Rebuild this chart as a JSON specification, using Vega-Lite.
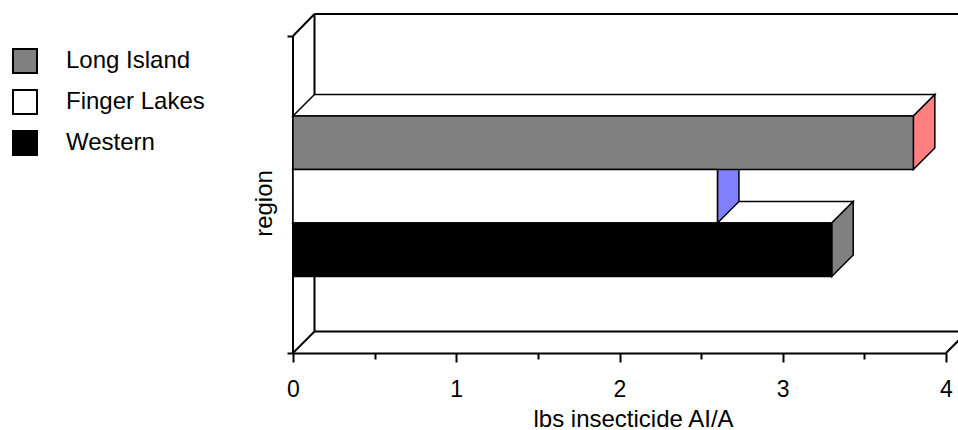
{
  "$schema": "https://vega.github.io/schema/vega-lite/v6.json",
  "autosize": {"type": "none"},
  "width": 653,
  "height": 339,
  "padding": {"left": 293, "top": 14, "right": 12, "bottom": 77},
  "background": "white",
  "config": {
    "view": {"stroke": null},
    "font": "Liberation Sans",
    "axis": {"grid": false, "domainColor": "black", "domainWidth": 2, "tickColor": "black", "tickWidth": 2, "labelColor": "black", "titleColor": "black", "labelFont": "Liberation Sans", "titleFont": "Liberation Sans", "titleFontWeight": "normal", "labelFontSize": 23}
  },
  "datasets": {
    "bars": [
      {"region": "Long Island", "value": 3.8},
      {"region": "Finger Lakes", "value": 2.6},
      {"region": "Western", "value": 3.3}
    ],
    "frame": [{"part": "walls"}]
  },
  "layer": [
    {
      "data": {"name": "frame"},
      "layer": [
        {
          "mark": {"type": "rule", "stroke": "black", "strokeWidth": 2},
          "encoding": {
            "x": {"datum": 0.1317, "type": "quantitative", "scale": {"domain": [0, 4], "nice": false}},
            "y": {"datum": 21.5, "type": "quantitative", "scale": {"domain": [0, 339], "nice": false}},
            "y2": {"datum": 339}
          }
        },
        {
          "mark": {"type": "rule", "stroke": "black", "strokeWidth": 2},
          "encoding": {
            "x": {"datum": 0.1317, "type": "quantitative"},
            "x2": {"datum": 4.1317},
            "y": {"datum": 339, "type": "quantitative"}
          }
        },
        {
          "mark": {"type": "rule", "stroke": "black", "strokeWidth": 2},
          "encoding": {
            "x": {"datum": 0.1317, "type": "quantitative"},
            "x2": {"datum": 4.1317},
            "y": {"datum": 21.5, "type": "quantitative"}
          }
        },
        {
          "mark": {"type": "rule", "stroke": "black", "strokeWidth": 2},
          "encoding": {
            "x": {"datum": 0, "type": "quantitative"},
            "x2": {"datum": 0.1317},
            "y": {"datum": 0, "type": "quantitative"},
            "y2": {"datum": 21.5}
          }
        },
        {
          "mark": {"type": "rule", "stroke": "black", "strokeWidth": 2},
          "encoding": {
            "x": {"datum": 0, "type": "quantitative"},
            "x2": {"datum": 0.1317},
            "y": {"datum": 317, "type": "quantitative"},
            "y2": {"datum": 339}
          }
        },
        {
          "mark": {"type": "rule", "stroke": "black", "strokeWidth": 2},
          "encoding": {
            "x": {"datum": 4, "type": "quantitative"},
            "x2": {"datum": 4.1317},
            "y": {"datum": 0, "type": "quantitative"},
            "y2": {"datum": 21.5}
          }
        },
        {
          "mark": {"type": "rule", "stroke": "black", "strokeWidth": 2},
          "encoding": {
            "x": {"datum": 0, "type": "quantitative"},
            "y": {"datum": 0, "type": "quantitative"},
            "y2": {"datum": 317}
          }
        }
      ]
    },
    {
      "data": {"name": "bars"},
      "transform": [
        {"calculate": "indexof(['Long Island','Finger Lakes','Western'], datum.region)", "as": "slot"},
        {"calculate": "76.5 + (2 - datum.slot) * 53.5", "as": "lo"},
        {"calculate": "datum.lo + 53.5", "as": "hi"}
      ],
      "layer": [
        {
          "transform": [
            {"calculate": "[0, 1]", "as": "k"},
            {"flatten": ["k"]},
            {"calculate": "datum.hi + datum.k * 21.5", "as": "ty"},
            {"calculate": "datum.k * 0.1317", "as": "tx1"},
            {"calculate": "datum.value + datum.k * 0.1317", "as": "tx2"}
          ],
          "mark": {"type": "area", "orient": "horizontal", "fill": "white", "stroke": "black", "strokeWidth": 1.5},
          "encoding": {
            "y": {"field": "ty", "type": "quantitative"},
            "x": {"field": "tx1", "type": "quantitative"},
            "x2": {"field": "tx2"},
            "detail": {"field": "region"}
          }
        },
        {
          "transform": [
            {"calculate": "[0, 1]", "as": "k"},
            {"flatten": ["k"]},
            {"calculate": "datum.value + datum.k * 0.1317", "as": "sx"},
            {"calculate": "datum.lo + datum.k * 21.5", "as": "sy1"},
            {"calculate": "datum.hi + datum.k * 21.5", "as": "sy2"}
          ],
          "mark": {"type": "area", "orient": "vertical", "stroke": "black", "strokeWidth": 1.5},
          "encoding": {
            "x": {"field": "sx", "type": "quantitative"},
            "y": {"field": "sy1", "type": "quantitative"},
            "y2": {"field": "sy2"},
            "detail": {"field": "region"},
            "fill": {
              "condition": [
                {"test": "datum.region === 'Long Island'", "value": "#ff8080"},
                {"test": "datum.region === 'Finger Lakes'", "value": "#8080ff"}
              ],
              "value": "#808080"
            }
          }
        },
        {
          "mark": {"type": "rect", "stroke": "black", "strokeWidth": 1.5},
          "encoding": {
            "x": {
              "field": "value",
              "type": "quantitative",
              "title": "lbs insecticide AI/A",
              "axis": {
                "values": [0, 0.5, 1, 1.5, 2, 2.5, 3, 3.5, 4],
                "format": "~g",
                "labelExpr": "datum.value % 1 === 0 ? datum.label : ''",
                "tickSize": {"condition": {"test": "datum.value % 1 === 0", "value": 9}, "value": 6},
                "labelFontSize": 23,
                "labelPadding": 16,
                "labelFlush": false,
                "labelOverlap": false,
                "labelBound": false,
                "titleFontSize": 24,
                "titleX": 340,
                "titleY": 73,
                "titleBaseline": "alphabetic",
                "titleAlign": "center"
              }
            },
            "x2": {"datum": 0},
            "y": {
              "field": "lo",
              "type": "quantitative",
              "title": "region",
              "axis": {
                "values": [0, 317],
                "labels": false,
                "domain": false,
                "tickSize": 6,
                "titleFontSize": 24,
                "titleAngle": 270,
                "titleX": -29,
                "titleY": 189,
                "titleAlign": "center",
                "titleBaseline": "middle"
              }
            },
            "y2": {"field": "hi"},
            "fill": {
              "field": "region",
              "type": "nominal",
              "scale": {"domain": ["Long Island", "Finger Lakes", "Western"], "range": ["#808080", "#ffffff", "#000000"]},
              "legend": {
                "orient": "none",
                "legendX": -281,
                "legendY": 34,
                "title": null,
                "symbolType": "square",
                "symbolSize": 576,
                "symbolStrokeColor": "black",
                "symbolStrokeWidth": 2,
                "symbolOpacity": 1,
                "labelFontSize": 24,
                "labelFont": "Liberation Sans",
                "labelColor": "black",
                "labelOffset": 28,
                "rowPadding": 9
              }
            }
          }
        }
      ]
    }
  ]
}
